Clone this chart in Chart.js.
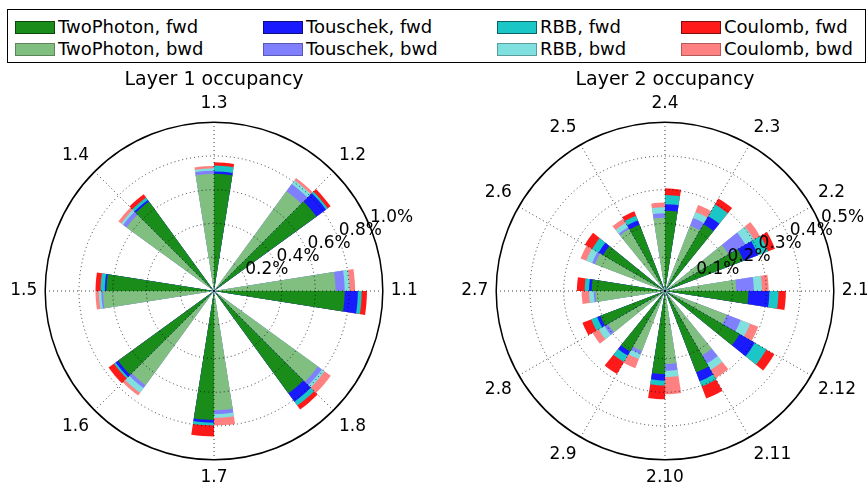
<!DOCTYPE html>
<html>
<head>
<meta charset="utf-8">
<script src="https://cdn.jsdelivr.net/npm/chart.js@4.4.1/dist/chart.umd.min.js"></script>
<style>
html, body { margin: 0; padding: 0; width: 867px; height: 494px; overflow: hidden; background: #fff; font-family: 'DejaVu Sans', sans-serif; }
#legend { position: absolute; left: 7px; top: 9px; width: 857px; height: 52px; border: 1px solid #000; }
.item { position: absolute; display: flex; align-items: center; height: 20px; font-size: 18px; line-height: 20px; white-space: nowrap; color: #000; }
.sw { width: 38px; height: 11px; border: 1px solid; margin-right: 3px; flex: none; }
canvas { position: absolute; top: 66px; }
#c1 { left: 0; }
#c2 { left: 433px; }
</style>
</head>
<body>
<div id="legend"></div>
<canvas id="c1" width="433" height="428"></canvas>
<canvas id="c2" width="467" height="428"></canvas>
<script>
// ---------------- data (occupancy in %) ----------------
const seriesNames = ['TwoPhoton', 'Touschek', 'RBB', 'Coulomb'];

const layer1Sectors = ['1.1', '1.2', '1.3', '1.4', '1.5', '1.6', '1.7', '1.8'];
const layer1Ticks = [0.2, 0.4, 0.6, 0.8, 1.0];
const l1TwoPhotonFwd = [0.774, 0.750, 0.694, 0.655, 0.637, 0.702, 0.764, 0.749];
const l1TouschekFwd  = [0.078, 0.070, 0.014, 0.012, 0.010, 0.018, 0.016, 0.062];
const l1RBBFwd       = [0.023, 0.013, 0.035, 0.017, 0.025, 0.012, 0.017, 0.028];
const l1CoulombFwd   = [0.031, 0.021, 0.019, 0.024, 0.030, 0.040, 0.065, 0.029];
const l1TwoPhotonBwd = [0.720, 0.731, 0.694, 0.640, 0.657, 0.690, 0.706, 0.761];
const l1TouschekBwd  = [0.054, 0.052, 0.019, 0.025, 0.010, 0.020, 0.023, 0.029];
const l1RBBBwd       = [0.029, 0.028, 0.014, 0.015, 0.015, 0.035, 0.023, 0.020];
const l1CoulombBwd   = [0.033, 0.016, 0.014, 0.020, 0.020, 0.020, 0.045, 0.045];

const layer2Sectors = ['2.1', '2.2', '2.3', '2.4', '2.5', '2.6', '2.7', '2.8', '2.9', '2.10', '2.11', '2.12'];
const layer2Ticks = [0.1, 0.2, 0.3, 0.4, 0.5];
const l2TwoPhotonFwd = [0.247, 0.249, 0.228, 0.238, 0.210, 0.212, 0.217, 0.205, 0.207, 0.246, 0.258, 0.255];
const l2TouschekFwd  = [0.062, 0.046, 0.028, 0.019, 0.014, 0.015, 0.008, 0.010, 0.014, 0.019, 0.028, 0.052];
const l2RBBFwd       = [0.027, 0.032, 0.040, 0.027, 0.015, 0.022, 0.013, 0.019, 0.022, 0.015, 0.017, 0.040];
const l2CoulombFwd   = [0.022, 0.022, 0.020, 0.020, 0.014, 0.025, 0.023, 0.028, 0.041, 0.041, 0.038, 0.027];
const l2TwoPhotonBwd = [0.211, 0.217, 0.207, 0.217, 0.212, 0.222, 0.206, 0.195, 0.190, 0.216, 0.220, 0.196];
const l2TouschekBwd  = [0.052, 0.058, 0.025, 0.013, 0.006, 0.009, 0.005, 0.012, 0.010, 0.020, 0.028, 0.044];
const l2RBBBwd       = [0.024, 0.029, 0.019, 0.018, 0.015, 0.019, 0.014, 0.020, 0.016, 0.019, 0.022, 0.030];
const l2CoulombBwd   = [0.020, 0.021, 0.022, 0.014, 0.014, 0.018, 0.022, 0.021, 0.029, 0.051, 0.028, 0.026];

// ---------------- styling ----------------
const fwdColors = ['#1a8c1a', '#1a1aff', '#1ac6c6', '#ff1a1a'];
const bwdColors = ['#80bf80', '#8080ff', '#80dfdf', '#ff8080'];
const fwdEdge = ['#0d460d', '#0d0d80', '#0d6363', '#800d0d'];
const bwdEdge = ['#5a865a', '#5a5ab3', '#5a9c9c', '#b35a5a'];
const FONT = "'DejaVu Sans', sans-serif";
const HALF_W = 9; // degrees of each half-bar

Chart.defaults.font.family = FONT;
Chart.defaults.color = '#000';

// ---------------- HTML legend (column-major like the original) ----------------
(function buildLegend() {
  const el = document.getElementById('legend');
  const colX = [7, 255, 489, 673];
  const rowY = [7, 29];
  seriesNames.forEach((name, c) => {
    [['fwd', fwdColors, fwdEdge], ['bwd', bwdColors, bwdEdge]].forEach(([dir, cols, edges], r) => {
      const it = document.createElement('div');
      it.className = 'item';
      it.style.left = colX[c] + 'px';
      it.style.top = rowY[r] + 'px';
      const sw = document.createElement('span');
      sw.className = 'sw';
      sw.style.background = cols[c];
      sw.style.borderColor = edges[c];
      const tx = document.createElement('span');
      tx.textContent = name + ', ' + dir;
      it.appendChild(sw); it.appendChild(tx);
      el.appendChild(it);
    });
  });
})();

// ---------------- helpers ----------------
function cumulative(arrs) {
  const out = []; let acc = arrs[0].map(() => 0);
  arrs.forEach(a => { acc = acc.map((v, i) => v + a[i]); out.push(acc.slice()); });
  return out;
}
// element sequence (clockwise from east): [fwd of sector m, gap, bwd of next sector]
function slots(n, fwd, bwd) {
  const out = [];
  for (let m = 0; m < n; m++) {
    out.push(fwd[(n - m) % n]);
    out.push(0);
    out.push(bwd[(2 * n - m - 1) % n]);
  }
  return out;
}
function slotLabels(sectors) {
  const n = sectors.length, out = [];
  for (let m = 0; m < n; m++) out.push(sectors[(n - m) % n], '', '');
  return out;
}

const tickLabelPlugin = {
  id: 'tickLabels',
  afterDraw(chart) {
    const s = chart.scales.r, ctx = chart.ctx;
    const a = 22.5 * Math.PI / 180;
    ctx.save();
    ctx.font = '17px ' + FONT;
    ctx.fillStyle = '#000';
    ctx.textAlign = 'left';
    ctx.textBaseline = 'bottom';
    s.ticks.forEach(t => {
      if (t.value <= 0) return;
      const r = s.getDistanceFromCenterForValue(t.value);
      ctx.fillText(t.value.toFixed(1) + '%', s.xCenter + r * Math.cos(a), s.yCenter - r * Math.sin(a));
    });
    ctx.restore();
  }
};

function makePolar(canvasId, title, sectors, ticks, fwdArrs, bwdArrs, padding) {
  const n = sectors.length;
  const spacing = 360 / n;
  const max = ticks[ticks.length - 1];
  const cumF = cumulative(fwdArrs);
  const cumB = cumulative(bwdArrs);
  const datasets = seriesNames.map((name, k) => ({
    label: name,
    data: slots(n, cumF[k], cumB[k]),
    backgroundColor: ctx => {
      const j = ctx.dataIndex % 3;
      return j === 0 ? fwdColors[k] : (j === 2 ? bwdColors[k] : 'rgba(0,0,0,0)');
    },
    borderWidth: 0,
    angle: ctx => (ctx.dataIndex % 3 === 1 ? spacing - 2 * HALF_W : HALF_W)
  }));
  return new Chart(document.getElementById(canvasId), {
    type: 'polarArea',
    data: { labels: slotLabels(sectors), datasets },
    plugins: [tickLabelPlugin],
    options: {
      responsive: false,
      animation: false,
      events: [],
      layout: { padding },
      plugins: {
        legend: { display: false },
        tooltip: { enabled: false },
        title: {
          display: true, text: title, color: '#000',
          font: { family: FONT, size: 19, weight: 'normal', lineHeight: 1.2 },
          padding: { top: 3, bottom: 2 }
        }
      },
      scales: {
        r: {
          min: 0, max,
          startAngle: 90,
          afterBuildTicks: scale => { scale.ticks = [0].concat(ticks).map(v => ({ value: v })); },
          ticks: { display: false },
          grid: {
            z: 1,
            circular: true,
            color: ctx => (Math.abs(ctx.tick.value - max) < 1e-9 ? '#000' : 'rgba(0,0,0,0.75)'),
            lineWidth: ctx => (Math.abs(ctx.tick.value - max) < 1e-9 ? 1.5 : 1)
          },
          border: {
            dash: ctx => (ctx.tick && Math.abs(ctx.tick.value - max) < 1e-9 ? [] : [1, 3])
          },
          angleLines: {
            display: true,
            color: 'rgba(0,0,0,0.75)',
            lineWidth: ctx => (ctx.label ? 1 : 0),
            borderDash: [1, 3]
          },
          pointLabels: {
            display: true,
            color: '#000',
            padding: 8,
            font: ctx => ({ family: FONT, size: ctx.label ? 17 : 1 })
          }
        }
      }
    }
  });
}

makePolar('c1', 'Layer 1 occupancy', layer1Sectors, layer1Ticks,
  [l1TwoPhotonFwd, l1TouschekFwd, l1RBBFwd, l1CoulombFwd],
  [l1TwoPhotonBwd, l1TouschekBwd, l1RBBBwd, l1CoulombBwd],
  { left: 9, right: 14, top: 0, bottom: 4 });

makePolar('c2', 'Layer 2 occupancy', layer2Sectors, layer2Ticks,
  [l2TwoPhotonFwd, l2TouschekFwd, l2RBBFwd, l2CoulombFwd],
  [l2TwoPhotonBwd, l2TouschekBwd, l2RBBBwd, l2CoulombBwd],
  { left: 26, right: 29, top: 0, bottom: 4 });
</script>
</body>
</html>
